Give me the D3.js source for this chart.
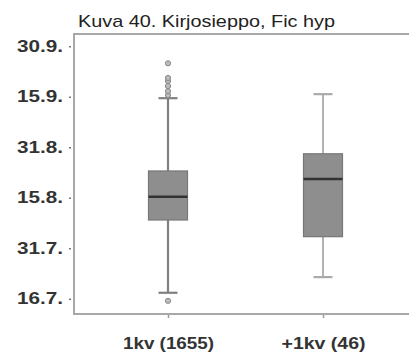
<!DOCTYPE html>
<html><head><meta charset="utf-8">
<script src="https://cdn.jsdelivr.net/npm/d3@7"></script>
<style>body{margin:0;background:#fff}svg{display:block}</style>
</head><body>
<svg id="c" width="409" height="356"></svg>
<script>
const title = "Kuva 40. Kirjosieppo, Fic hyp";
const categories = ["1kv (1655)", "+1kv (46)"];
const tickLabels = ["16.7.", "31.7.", "15.8.", "31.8.", "15.9.", "30.9."];
const whiskerLow = [0.12, 0.43];
const q1 = [1.56, 1.23];
const median = [2.02, 2.37];
const q3 = [2.53, 2.87];
const whiskerHigh = [3.97, 4.05];
const outliers1 = [-0.04, 4.03, 4.11, 4.21, 4.31, 4.37, 4.66];
const outliers2 = [];
const outliers = [outliers1, outliers2];

const svg = d3.select("#c");
const m = {left: 74, top: 34, right: 409, bottom: 314};
const y = d3.scaleLinear().domain([-0.3, 5.24]).range([m.bottom, m.top]);
const x = d3.scalePoint().domain(categories).range([168, 323]);

const font = "'Liberation Sans', Arial, sans-serif";
svg.append("text").attr("x", 78).attr("y", 27).attr("font-family", font)
  .attr("font-size", 17).attr("fill", "#222")
  .attr("textLength", 257).attr("lengthAdjust", "spacingAndGlyphs").text(title);

// frame
svg.append("path").attr("d", `M${m.right},${m.top}H${m.left}V${m.bottom}H${m.right}`)
  .attr("fill", "none").attr("stroke", "#a8a8a8").attr("stroke-width", 2);

// y axis
const ya = svg.append("g").attr("transform", `translate(${m.left - 3},0)`)
  .call(d3.axisLeft(y).tickValues(d3.range(tickLabels.length)).tickFormat(i => tickLabels[i]).tickSize(2).tickPadding(6));
ya.select(".domain").remove();
ya.selectAll(".tick line").attr("stroke", "#777").attr("stroke-width", 1.5);
ya.selectAll(".tick text").attr("font-family", font).attr("font-size", 16)
  .attr("font-weight", "bold").attr("fill", "#333")
  .attr("textLength", 46).attr("lengthAdjust", "spacingAndGlyphs");

// x axis
const xa = svg.append("g").attr("transform", `translate(0,${m.bottom + 1})`)
  .call(d3.axisBottom(x).tickSize(3).tickPadding(20));
xa.select(".domain").remove();
xa.selectAll(".tick line").attr("stroke", "#999").attr("stroke-width", 1.5);
xa.selectAll(".tick text").attr("font-family", font).attr("font-size", 16)
  .attr("font-weight", "bold").attr("fill", "#333")
  .attr("textLength", (d, i) => i === 0 ? 91 : 84).attr("lengthAdjust", "spacingAndGlyphs");

const bw = 39, cw = 19;
categories.forEach((c, i) => {
  const cx = x(c);
  const g = svg.append("g");
  const wc = i === 0 ? "#808080" : "#aaaaaa";
  const ww = i === 0 ? 2.2 : 1.8;
  g.append("line").attr("x1", cx).attr("x2", cx).attr("y1", y(whiskerHigh[i])).attr("y2", y(q3[i]))
    .attr("stroke", wc).attr("stroke-width", ww);
  g.append("line").attr("x1", cx).attr("x2", cx).attr("y1", y(q1[i])).attr("y2", y(whiskerLow[i]))
    .attr("stroke", wc).attr("stroke-width", ww);
  [whiskerHigh[i], whiskerLow[i]].forEach(v => {
    g.append("line").attr("x1", cx - cw / 2).attr("x2", cx + cw / 2).attr("y1", y(v)).attr("y2", y(v))
      .attr("stroke", wc).attr("stroke-width", 2.2);
  });
  g.append("rect").attr("x", cx - bw / 2).attr("width", bw)
    .attr("y", y(q3[i])).attr("height", y(q1[i]) - y(q3[i]))
    .attr("fill", "#8e8e8e").attr("stroke", "#777").attr("stroke-width", 1.2);
  g.append("line").attr("x1", cx - bw / 2).attr("x2", cx + bw / 2).attr("y1", y(median[i])).attr("y2", y(median[i]))
    .attr("stroke", "#333").attr("stroke-width", 2.5);
  outliers[i].forEach(v => {
    g.append("circle").attr("cx", cx).attr("cy", y(v)).attr("r", 2.6)
      .attr("fill", "#bbb").attr("stroke", "#888").attr("stroke-width", 1);
  });
});
</script>
</body></html>
